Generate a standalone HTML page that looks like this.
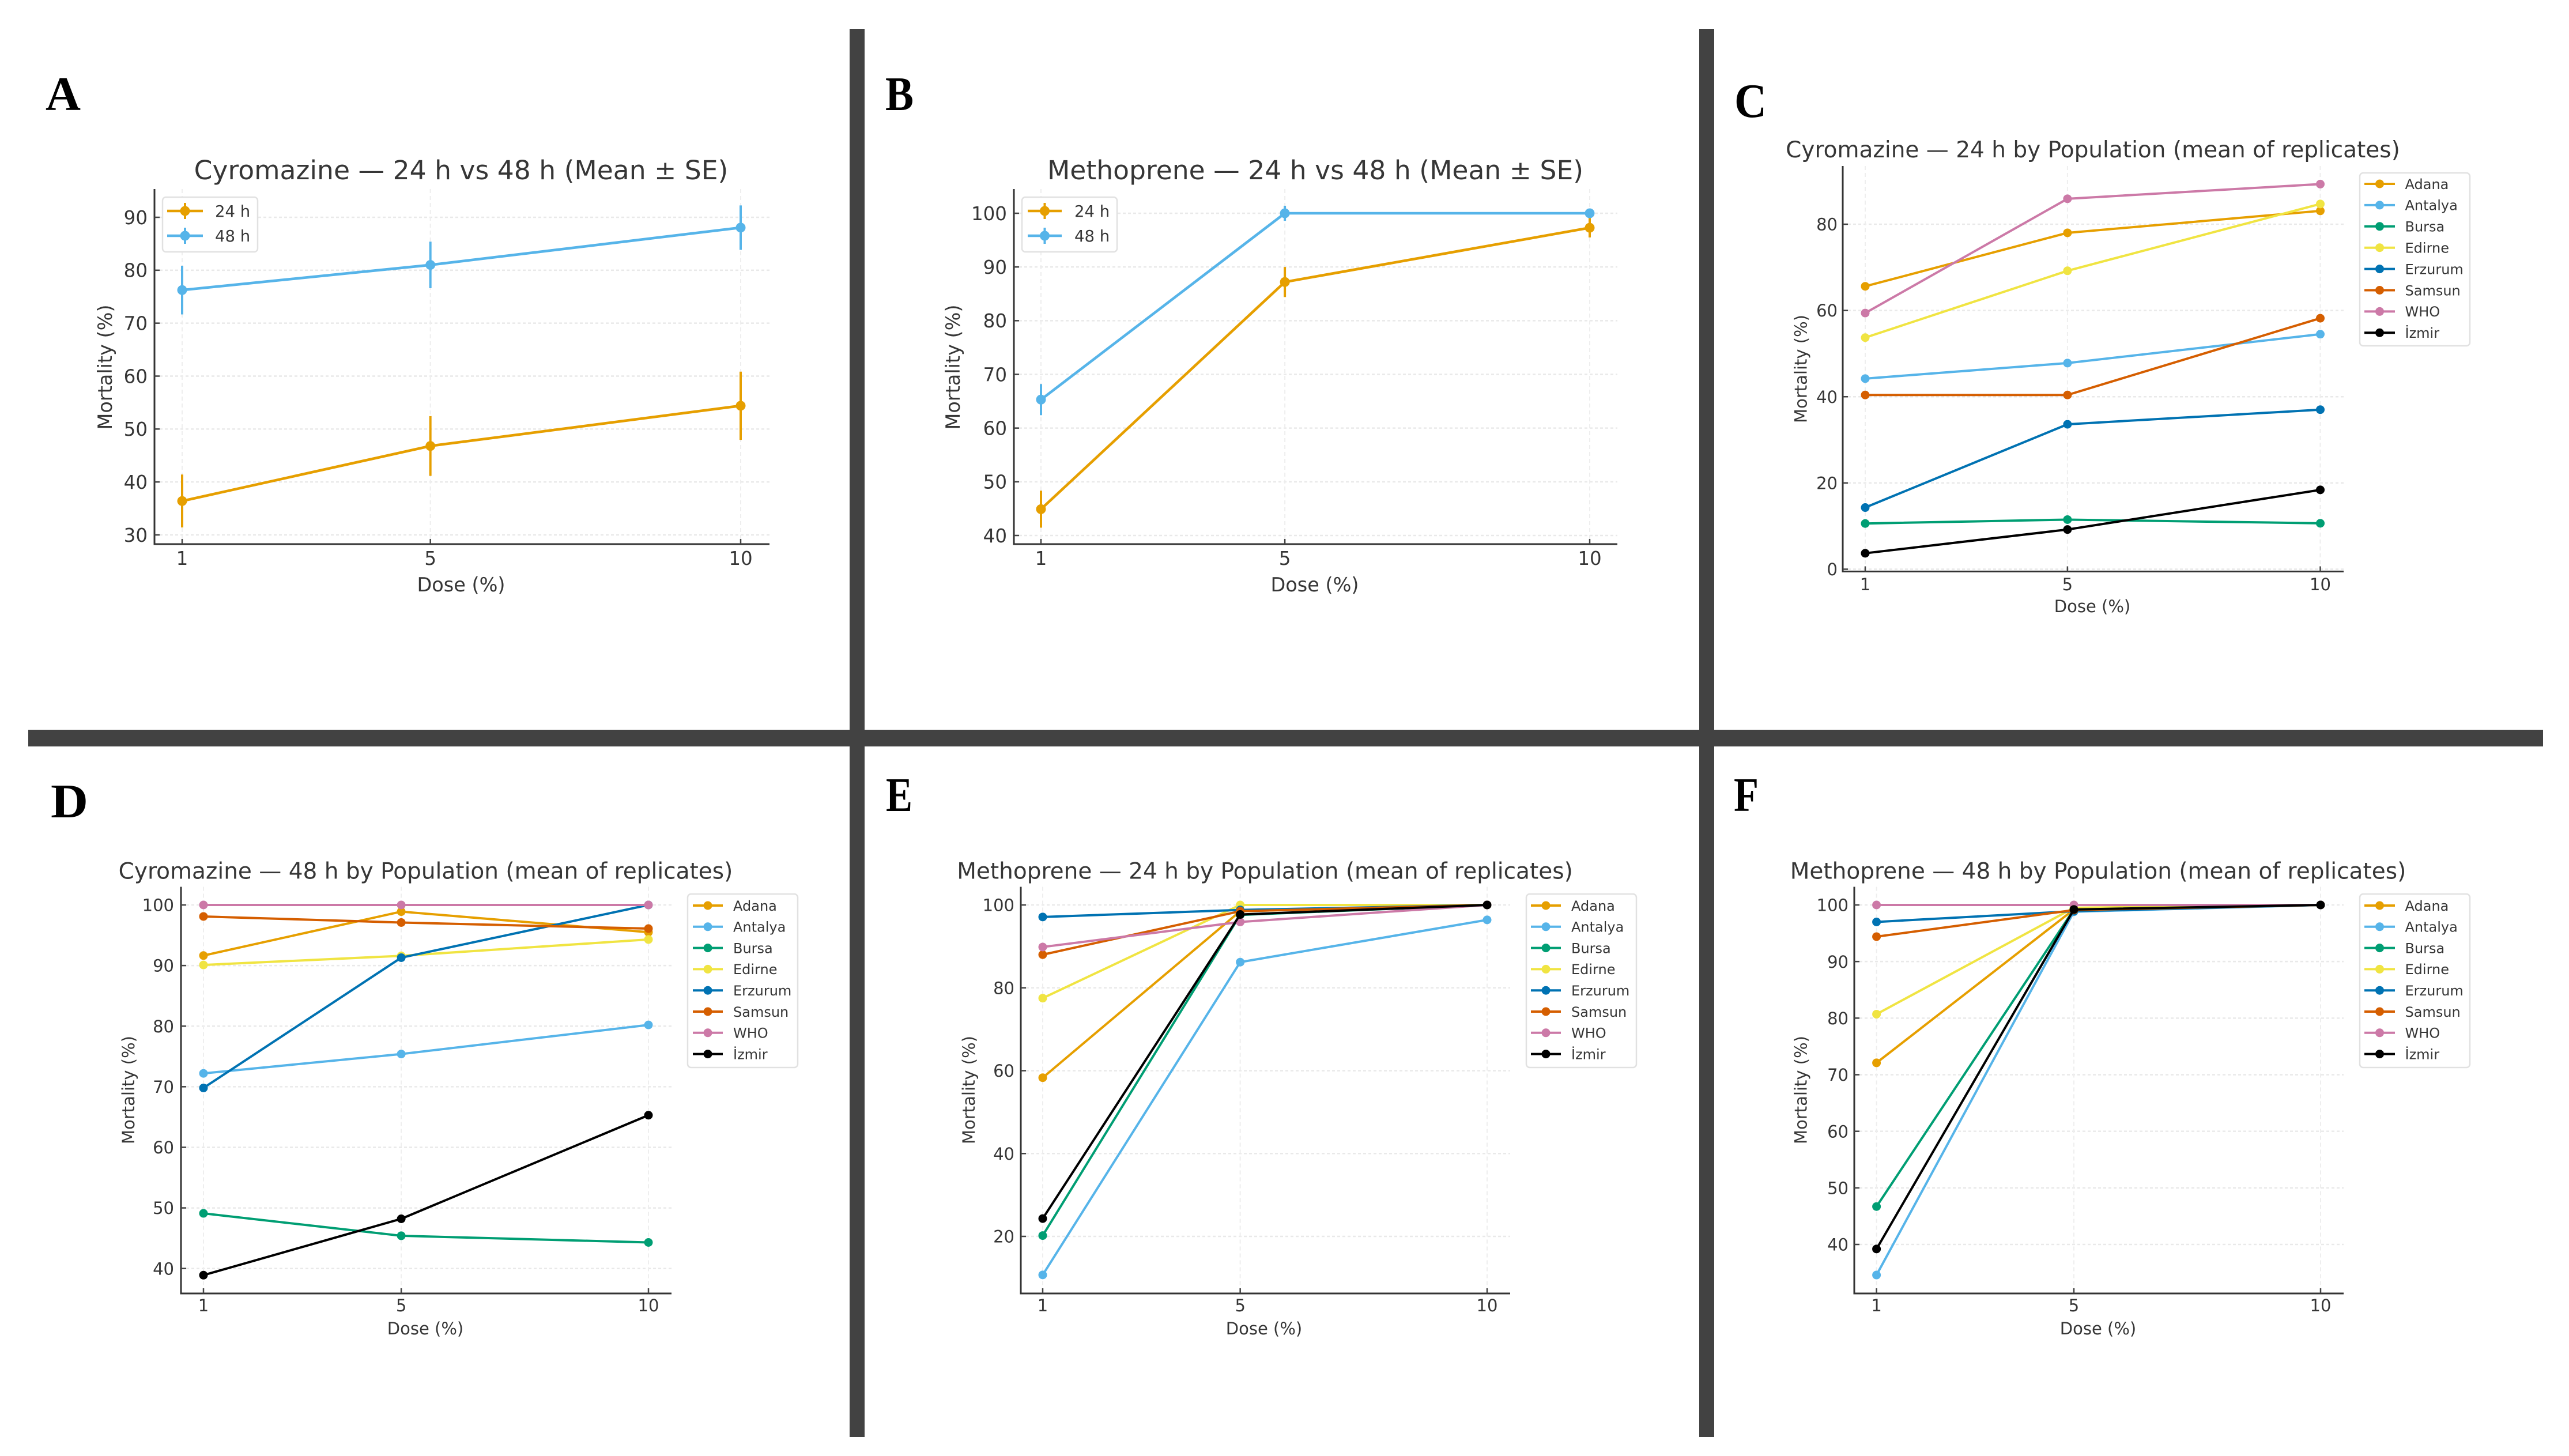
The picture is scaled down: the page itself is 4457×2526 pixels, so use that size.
<!DOCTYPE html>
<html lang="en">
<head>
<meta charset="utf-8">
<title>Mortality by dose: Cyromazine and Methoprene</title>
<style>
html,body{margin:0;padding:0;background:#fff;}
svg{display:block;}
text{font-family:"DejaVu Sans","Liberation Sans",sans-serif;fill:#363636;}
.letter{font-family:"Liberation Serif",serif;font-weight:700;fill:#000;font-size:84px;}
.t1{font-size:45.6px;text-anchor:middle;}
.t2{font-size:39px;text-anchor:middle;}
.l1{font-size:33.5px;text-anchor:middle;}
.l2{font-size:29px;text-anchor:middle;}
</style>
</head>
<body>
<svg id="figure" xmlns="http://www.w3.org/2000/svg" width="4457" height="2526" viewBox="0 0 4457 2526">
  <rect x="0" y="0" width="4457" height="2526" fill="#fff"/>

  <g id="panel-a"></g>
  <g id="panel-b"></g>
  <g id="panel-c"></g>
  <g id="panel-d"></g>
  <g id="panel-e"></g>
  <g id="panel-f"></g>

  <rect x="1474" y="50" width="26" height="2443" fill="#424242"/>
  <rect x="2948" y="50" width="26" height="2443" fill="#424242"/>
  <rect x="49" y="1266" width="4363" height="29" fill="#424242"/>

  <text class="letter" x="79" y="191" textLength="61" lengthAdjust="spacingAndGlyphs">A</text>
  <text class="letter" x="1536" y="191" textLength="49" lengthAdjust="spacingAndGlyphs">B</text>
  <text class="letter" x="3009" y="203" textLength="56" lengthAdjust="spacingAndGlyphs">C</text>
  <text class="letter" x="88" y="1418" textLength="65" lengthAdjust="spacingAndGlyphs">D</text>
  <text class="letter" x="1537" y="1407" textLength="46" lengthAdjust="spacingAndGlyphs">E</text>
  <text class="letter" x="3008" y="1407" textLength="43" lengthAdjust="spacingAndGlyphs">F</text>

  <text class="t1" x="800" y="311">Cyromazine — 24 h vs 48 h (Mean ± SE)</text>
  <text class="t1" x="2282" y="311">Methoprene — 24 h vs 48 h (Mean ± SE)</text>
  <text class="t2" x="3631" y="273">Cyromazine — 24 h by Population (mean of replicates)</text>
  <text class="t2" x="738.5" y="1524.5">Cyromazine — 48 h by Population (mean of replicates)</text>
  <text class="t2" x="2194.5" y="1524.5">Methoprene — 24 h by Population (mean of replicates)</text>
  <text class="t2" x="3640" y="1524.5">Methoprene — 48 h by Population (mean of replicates)</text>

  <text class="l1" x="800" y="1026">Dose (%)</text>
  <text class="l1" x="2281" y="1026">Dose (%)</text>
  <text class="l2" x="3630" y="1062">Dose (%)</text>
  <text class="l2" x="738" y="2315">Dose (%)</text>
  <text class="l2" x="2193" y="2315">Dose (%)</text>
  <text class="l2" x="3640" y="2315">Dose (%)</text>

  <text class="l1" transform="translate(194 637) rotate(-90)">Mortality (%)</text>
  <text class="l1" transform="translate(1665 637) rotate(-90)">Mortality (%)</text>
  <text class="l2" transform="translate(3134.5 640) rotate(-90)">Mortality (%)</text>
  <text class="l2" transform="translate(233 1891) rotate(-90)">Mortality (%)</text>
  <text class="l2" transform="translate(1691 1891) rotate(-90)">Mortality (%)</text>
  <text class="l2" transform="translate(3134.5 1891) rotate(-90)">Mortality (%)</text>
</svg>

<script>
// ---- Shared categories ----
const doses = [1, 5, 10];
const timeLabels = ["24 h", "48 h"];
const populations = ["Adana", "Antalya", "Bursa", "Edirne", "Erzurum", "Samsun", "WHO", "İzmir"];

// ---- Panel A: Cyromazine mean and SE ----
const cyroMean24 = [36.4, 46.8, 54.4];
const cyroSE24 = [5.0, 5.65, 6.45];
const cyroMean48 = [76.25, 81.0, 88.05];
const cyroSE48 = [4.6, 4.4, 4.2];
const ticksA = [30, 40, 50, 60, 70, 80, 90];

// ---- Panel B: Methoprene mean and SE ----
const methMean24 = [44.9, 87.2, 97.3];
const methSE24 = [3.45, 2.8, 1.8];
const methMean48 = [65.3, 100, 100];
const methSE48 = [2.9, 1.4, 0];
const ticksB = [40, 50, 60, 70, 80, 90, 100];

// ---- Panel C: Cyromazine 24 h by population ----
const cAdana = [65.6, 78.0, 83.1];
const cAntalya = [44.2, 47.8, 54.5];
const cBursa = [10.6, 11.5, 10.65];
const cEdirne = [53.7, 69.2, 84.7];
const cErzurum = [14.3, 33.6, 37.0];
const cSamsun = [40.4, 40.4, 58.2];
const cWHO = [59.4, 85.9, 89.3];
const cIzmir = [3.7, 9.2, 18.4];
const ticksC = [0, 20, 40, 60, 80];

// ---- Panel D: Cyromazine 48 h by population ----
const dAdana = [91.65, 98.9, 95.5];
const dAntalya = [72.2, 75.4, 80.2];
const dBursa = [49.1, 45.4, 44.3];
const dEdirne = [90.1, 91.6, 94.3];
const dErzurum = [69.8, 91.3, 100];
const dSamsun = [98.1, 97.1, 96.1];
const dWHO = [100, 100, 100];
const dIzmir = [38.9, 48.2, 65.3];
const ticksD = [40, 50, 60, 70, 80, 90, 100];

// ---- Panel E: Methoprene 24 h by population ----
const eAdana = [58.3, 98.5, 100];
const eAntalya = [10.7, 86.2, 96.4];
const eBursa = [20.2, 97.6, 100];
const eEdirne = [77.5, 100, 100];
const eErzurum = [97.1, 98.8, 100];
const eSamsun = [88.0, 98.5, 100];
const eWHO = [89.85, 95.9, 100];
const eIzmir = [24.3, 97.7, 100];
const ticksE = [20, 40, 60, 80, 100];

// ---- Panel F: Methoprene 48 h by population ----
const fAdana = [72.1, 99.2, 100];
const fAntalya = [34.6, 98.8, 100];
const fBursa = [46.7, 99.2, 100];
const fEdirne = [80.7, 99.5, 100];
const fErzurum = [97.0, 98.9, 100];
const fSamsun = [94.4, 99.1, 100];
const fWHO = [100, 100, 100];
const fIzmir = [39.2, 99.2, 100];
const ticksF = [40, 50, 60, 70, 80, 90, 100];

const timeColors = ["#E69F00", "#56B4E9"];
const popColors = ["#E69F00", "#56B4E9", "#009E73", "#F0E442", "#0072B2", "#D55E00", "#CC79A7", "#000000"];

const SVG_NS = "http://www.w3.org/2000/svg";

function make(parent, tag, attrs, content) {
  const node = document.createElementNS(SVG_NS, tag);
  for (const key in attrs) node.setAttribute(key, attrs[key]);
  if (content !== undefined) node.textContent = content;
  parent.appendChild(node);
  return node;
}

function linearScale(v0, p0, v1, p1) {
  return function (v) { return p0 + (v - v0) * (p1 - p0) / (v1 - v0); };
}

function drawFrame(g, f, xScale, yScale, ticks) {
  ticks.forEach(function (t) {
    const y = yScale(t);
    let el = make(g, "line", { x1: f.left, x2: f.right, y1: y, y2: y, stroke: "#e9e9e9", "stroke-width": 2.5, "stroke-dasharray": "5 4" });
    
    
  });
  doses.forEach(function (d) {
    const x = xScale(d);
    let el = make(g, "line", { x1: x, x2: x, y1: f.top, y2: f.bottom, stroke: "#eeeeee", "stroke-width": 2, "stroke-dasharray": "7 5" });
    
    
  });
}

function drawAxes(g, f, xScale, yScale, ticks) {
  let spineY = make(g, "line", { x1: f.left, x2: f.left, y1: f.top, y2: f.bottom + 1.5, stroke: "#333", "stroke-width": 3 });
  
  
  let spineX = make(g, "line", { x1: f.left, x2: f.right, y1: f.bottom, y2: f.bottom, stroke: "#333", "stroke-width": 3 });
  
  
  ticks.forEach(function (t) {
    const y = yScale(t);
    let mark = make(g, "line", { x1: f.left, x2: f.left + 9, y1: y, y2: y, stroke: "#444", "stroke-width": 2.5 });
    
    
    let label = make(g, "text", { x: f.tickRight, y: y + f.tickFont * 0.365, "text-anchor": "end", "font-size": f.tickFont }, String(t));
    
    
  });
  doses.forEach(function (d) {
    const x = xScale(d);
    let mark = make(g, "line", { x1: x, x2: x, y1: f.bottom - 9, y2: f.bottom, stroke: "#444", "stroke-width": 2.5 });
    
    
    let label = make(g, "text", { x: x, y: f.xTickBase, "text-anchor": "middle", "font-size": f.tickFont }, String(d));
    
    
  });
}

function drawSeries(g, name, values, color, f, xScale, yScale, errors) {
  const group = make(g, "g", {});
  
  
  if (errors) {
    values.forEach(function (v, i) {
      let bar = make(group, "line", { x1: xScale(doses[i]), x2: xScale(doses[i]), y1: yScale(v - errors[i]), y2: yScale(v + errors[i]), stroke: color, "stroke-width": 4 });
      
      
    });
  }
  const pts = values.map(function (v, i) { return xScale(doses[i]) + "," + yScale(v); }).join(" ");
  let line = make(group, "polyline", { points: pts, fill: "none", stroke: color, "stroke-width": f.lineWidth, "stroke-linejoin": "round" });
  
  
  values.forEach(function (v, i) {
    let point = make(group, "circle", { cx: xScale(doses[i]), cy: yScale(v), r: f.markerR, fill: color });
    
    
  });
}

function drawLegend(g, f, names, colors, withError) {
  const lg = f.legend;
  const group = make(g, "g", {});
  
  
  let box = make(group, "rect", { x: lg.x, y: lg.y, width: lg.w, height: lg.h, rx: 6, fill: "#fff", stroke: "#e1e1e1", "stroke-width": 2.5 });
  
  
  names.forEach(function (label, i) {
    const y = lg.first + i * lg.step;
    const mid = (lg.lineX1 + lg.lineX2) / 2;
    const entry = make(group, "g", {});
    
    
    make(entry, "line", { x1: lg.lineX1, x2: lg.lineX2, y1: y, y2: y, stroke: colors[i], "stroke-width": f.lineWidth });
    if (withError) {
      make(entry, "line", { x1: mid, x2: mid, y1: y - 14, y2: y + 14, stroke: colors[i], "stroke-width": 4 });
    }
    make(entry, "circle", { cx: mid, cy: y, r: f.markerR, fill: colors[i] });
    make(entry, "text", { x: lg.textX, y: y + lg.font * 0.365, "font-size": lg.font }, label);
  });
}

function drawPanel(id, f, ticks, names, colors, seriesList, errorList) {
  const g = document.getElementById(id);
  const xScale = linearScale(1, f.x1, 10, f.x10);
  const yScale = linearScale(f.v0, f.p0, f.v1, f.p1);
  drawFrame(g, f, xScale, yScale, ticks);
  seriesList.forEach(function (values, i) {
    drawSeries(g, names[i], values, colors[i], f, xScale, yScale, errorList ? errorList[i] : null);
  });
  drawLegend(g, f, names, colors, !!errorList);
  drawAxes(g, f, xScale, yScale, ticks);
}

const bigStyle = { tickFont: 32.5, lineWidth: 4.6, markerR: 8.5 };
const smallStyle = { tickFont: 29, lineWidth: 4, markerR: 7.5 };

drawPanel("panel-a", Object.assign({}, bigStyle, {
  left: 268, right: 1335, top: 328, bottom: 944, x1: 316, x10: 1285, v0: 30, p0: 928, v1: 90, p1: 377, tickRight: 256, xTickBase: 980,
  legend: { x: 282, y: 342, w: 165, h: 95, first: 366, step: 43, lineX1: 290, lineX2: 352, textX: 373, font: 27.5 }
}), ticksA, timeLabels, timeColors, [cyroMean24, cyroMean48], [cyroSE24, cyroSE48]);

drawPanel("panel-b", Object.assign({}, bigStyle, {
  left: 1759, right: 2806, top: 328, bottom: 944, x1: 1806, x10: 2758, v0: 40, p0: 929, v1: 100, p1: 370, tickRight: 1747, xTickBase: 980,
  legend: { x: 1773, y: 342, w: 165, h: 95, first: 366, step: 43, lineX1: 1783, lineX2: 1842, textX: 1864, font: 27.5 }
}), ticksB, timeLabels, timeColors, [methMean24, methMean48], [methSE24, methSE48]);

drawPanel("panel-c", Object.assign({}, smallStyle, {
  left: 3197, right: 4066, top: 288, bottom: 991.5, x1: 3236, x10: 4025.5, v0: 0, p0: 987.5, v1: 80, p1: 389, tickRight: 3188, xTickBase: 1024,
  legend: { x: 4094, y: 300, w: 191, h: 300, first: 319, step: 36.9, lineX1: 4102, lineX2: 4155, textX: 4172.5, font: 24 }
}), ticksC, populations, popColors, [cAdana, cAntalya, cBursa, cEdirne, cErzurum, cSamsun, cWHO, cIzmir], null);

drawPanel("panel-d", Object.assign({}, smallStyle, {
  left: 314, right: 1165, top: 1538.5, bottom: 2244, x1: 353, x10: 1125, v0: 40, p0: 2200.7, v1: 100, p1: 1570, tickRight: 302, xTickBase: 2275,
  legend: { x: 1193, y: 1551, w: 191, h: 301, first: 1571, step: 36.8, lineX1: 1202, lineX2: 1254, textX: 1272, font: 24 }
}), ticksD, populations, popColors, [dAdana, dAntalya, dBursa, dEdirne, dErzurum, dSamsun, dWHO, dIzmir], null);

drawPanel("panel-e", Object.assign({}, smallStyle, {
  left: 1771, right: 2620, top: 1538.5, bottom: 2244, x1: 1809, x10: 2580, v0: 20, p0: 2145, v1: 100, p1: 1570, tickRight: 1760, xTickBase: 2275,
  legend: { x: 2648, y: 1551, w: 191, h: 301, first: 1571, step: 36.8, lineX1: 2656, lineX2: 2708, textX: 2726, font: 24 }
}), ticksE, populations, popColors, [eAdana, eAntalya, eBursa, eEdirne, eErzurum, eSamsun, eWHO, eIzmir], null);

drawPanel("panel-f", Object.assign({}, smallStyle, {
  left: 3217, right: 4066, top: 1538.5, bottom: 2244, x1: 3255.6, x10: 4026, v0: 40, p0: 2159, v1: 100, p1: 1570, tickRight: 3207, xTickBase: 2275,
  legend: { x: 4094, y: 1551, w: 191, h: 301, first: 1571, step: 36.8, lineX1: 4102, lineX2: 4155, textX: 4172.5, font: 24 }
}), ticksF, populations, popColors, [fAdana, fAntalya, fBursa, fEdirne, fErzurum, fSamsun, fWHO, fIzmir], null);
</script>
</body>
</html>
